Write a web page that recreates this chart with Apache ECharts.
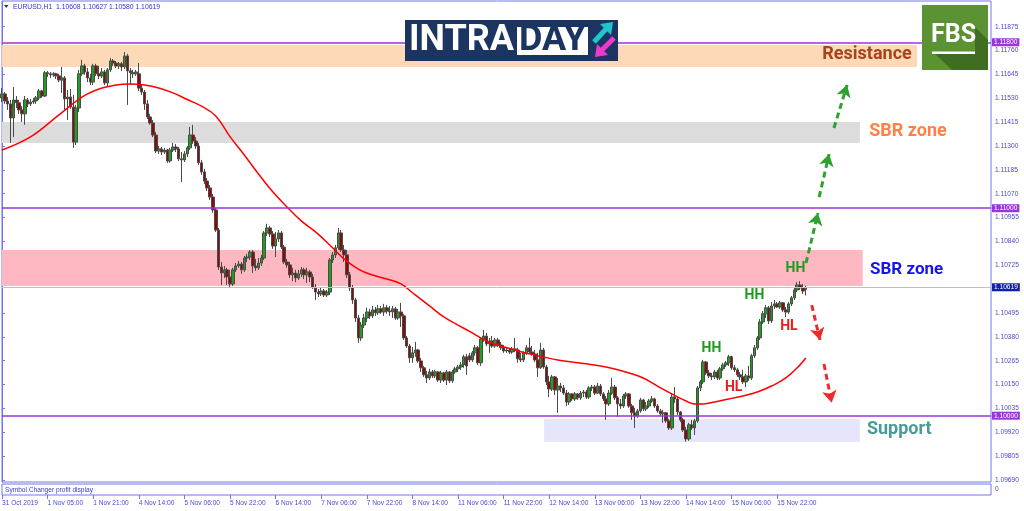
<!DOCTYPE html>
<html><head><meta charset="utf-8">
<script src="https://cdn.jsdelivr.net/npm/echarts@6/dist/echarts.min.js"></script>
<style>html,body{margin:0;padding:0;background:#fff}#c{width:1024px;height:511px}</style>
</head><body><div id="c"></div>
<script>
const symbolTitle = 'EURUSD,H1  1.10608 1.10627 1.10580 1.10619';
const subWindowTitle = 'Symbol Changer profit display';
const xTickLabels = ['31 Oct 2019','1 Nov 05:00','1 Nov 21:00','4 Nov 14:00','5 Nov 06:00','5 Nov 22:00','6 Nov 14:00','7 Nov 06:00','7 Nov 22:00','8 Nov 14:00','11 Nov 06:00','11 Nov 22:00','12 Nov 14:00','13 Nov 06:00','13 Nov 22:00','14 Nov 14:00','15 Nov 06:00','15 Nov 22:00'];
const yTickLabels = [1.09690,1.09805,1.09920,1.10035,1.10150,1.10265,1.10380,1.10495,1.10725,1.10840,1.10955,1.11070,1.11185,1.11300,1.11415,1.11530,1.11645,1.11760,1.11875];
// [open, close, low, high]
const candles = [
[1.11532,1.11551,1.11512,1.11579],[1.11551,1.11517,1.11503,1.11560],[1.11517,1.11503,1.11474,1.11536],[1.11503,1.11435,1.11315,1.11522],
[1.11435,1.11522,1.11343,1.11584],[1.11522,1.11508,1.11483,1.11541],[1.11508,1.11474,1.11455,1.11522],[1.11474,1.11455,1.11416,1.11493],
[1.11455,1.11522,1.11402,1.11541],[1.11522,1.11503,1.11488,1.11532],[1.11503,1.11512,1.11493,1.11527],[1.11512,1.11517,1.11503,1.11532],
[1.11517,1.11532,1.11503,1.11541],[1.11532,1.11565,1.11522,1.11575],[1.11565,1.11541,1.11532,1.11570],[1.11541,1.11653,1.11536,1.11662],
[1.11653,1.11648,1.11633,1.11662],[1.11648,1.11643,1.11628,1.11657],[1.11643,1.11648,1.11633,1.11657],[1.11648,1.11638,1.11623,1.11653],
[1.11638,1.11618,1.11608,1.11648],[1.11618,1.11628,1.11556,1.11681],[1.11628,1.11527,1.11474,1.11638],[1.11527,1.11536,1.11426,1.11570],
[1.11536,1.11488,1.11479,1.11575],[1.11488,1.11319,1.11291,1.11546],[1.11319,1.11483,1.11305,1.11498],[1.11483,1.11648,1.11464,1.11667],
[1.11648,1.11686,1.11638,1.11715],[1.11686,1.11657,1.11643,1.11696],[1.11657,1.11628,1.11608,1.11676],[1.11628,1.11608,1.11594,1.11648],
[1.11608,1.11686,1.11594,1.11696],[1.11686,1.11648,1.11638,1.11696],[1.11648,1.11638,1.11623,1.11686],[1.11638,1.11657,1.11628,1.11676],
[1.11657,1.11604,1.11594,1.11667],[1.11604,1.11667,1.11589,1.11676],[1.11667,1.11710,1.11657,1.11724],[1.11710,1.11700,1.11686,1.11720],
[1.11700,1.11686,1.11676,1.11710],[1.11686,1.11696,1.11671,1.11705],[1.11696,1.11681,1.11662,1.11705],[1.11681,1.11734,1.11671,1.11753],
[1.11734,1.11662,1.11498,1.11744],[1.11662,1.11653,1.11594,1.11676],[1.11653,1.11648,1.11628,1.11667],[1.11648,1.11657,1.11638,1.11667],
[1.11648,1.11579,1.11565,1.11700],[1.11579,1.11560,1.11546,1.11599],[1.11560,1.11503,1.11474,1.11570],[1.11503,1.11440,1.11430,1.11522],
[1.11440,1.11411,1.11402,1.11455],[1.11411,1.11353,1.11343,1.11426],[1.11353,1.11276,1.11267,1.11368],[1.11276,1.11286,1.11262,1.11300],
[1.11286,1.11271,1.11257,1.11295],[1.11271,1.11281,1.11262,1.11291],[1.11281,1.11228,1.11219,1.11286],[1.11228,1.11281,1.11219,1.11291],
[1.11281,1.11295,1.11271,1.11315],[1.11295,1.11286,1.11271,1.11310],[1.11286,1.11238,1.11228,1.11295],[1.11238,1.11233,1.11126,1.11271],
[1.11233,1.11262,1.11223,1.11276],[1.11262,1.11291,1.11247,1.11300],[1.11291,1.11353,1.11281,1.11392],[1.11353,1.11324,1.11310,1.11402],
[1.11324,1.11300,1.11286,1.11343],[1.11300,1.11219,1.11209,1.11315],[1.11219,1.11175,1.11161,1.11233],[1.11175,1.11131,1.11117,1.11190],
[1.11131,1.11098,1.11083,1.11146],[1.11098,1.11054,1.11040,1.11112],[1.11054,1.10992,1.10978,1.11069],[1.10992,1.10895,1.10886,1.11002],
[1.10895,1.10717,1.10703,1.10905],[1.10717,1.10688,1.10630,1.10741],[1.10688,1.10703,1.10664,1.10722],[1.10703,1.10669,1.10630,1.10713],
[1.10669,1.10635,1.10620,1.10703],[1.10635,1.10703,1.10625,1.10713],[1.10703,1.10722,1.10693,1.10736],[1.10722,1.10731,1.10713,1.10746],
[1.10731,1.10703,1.10684,1.10741],[1.10703,1.10760,1.10693,1.10770],[1.10760,1.10765,1.10741,1.10780],[1.10765,1.10789,1.10751,1.10799],
[1.10789,1.10722,1.10688,1.10799],[1.10722,1.10713,1.10698,1.10756],[1.10713,1.10736,1.10703,1.10760],[1.10736,1.10760,1.10722,1.10775],
[1.10760,1.10881,1.10751,1.10890],[1.10881,1.10905,1.10866,1.10925],[1.10905,1.10876,1.10861,1.10915],[1.10876,1.10818,1.10804,1.10890],
[1.10818,1.10852,1.10765,1.10886],[1.10852,1.10881,1.10837,1.10895],[1.10881,1.10813,1.10804,1.10890],[1.10813,1.10741,1.10731,1.10823],
[1.10741,1.10727,1.10713,1.10756],[1.10727,1.10679,1.10664,1.10741],[1.10679,1.10688,1.10649,1.10713],[1.10688,1.10664,1.10644,1.10703],
[1.10664,1.10684,1.10654,1.10703],[1.10684,1.10703,1.10669,1.10717],[1.10703,1.10679,1.10659,1.10713],[1.10679,1.10693,1.10640,1.10713],
[1.10693,1.10669,1.10644,1.10703],[1.10669,1.10620,1.10611,1.10684],[1.10620,1.10596,1.10558,1.10635],[1.10596,1.10587,1.10572,1.10611],
[1.10587,1.10601,1.10577,1.10616],[1.10601,1.10582,1.10572,1.10611],[1.10582,1.10596,1.10572,1.10606],[1.10596,1.10751,1.10582,1.10760],
[1.10751,1.10775,1.10736,1.10789],[1.10775,1.10809,1.10760,1.10823],[1.10809,1.10881,1.10799,1.10905],[1.10881,1.10799,1.10789,1.10895],
[1.10799,1.10775,1.10741,1.10823],[1.10775,1.10679,1.10664,1.10799],[1.10679,1.10616,1.10601,1.10693],[1.10616,1.10558,1.10539,1.10630],
[1.10558,1.10471,1.10452,1.10568],[1.10471,1.10375,1.10351,1.10486],[1.10375,1.10437,1.10360,1.10452],[1.10437,1.10471,1.10423,1.10491],
[1.10471,1.10500,1.10452,1.10520],[1.10500,1.10481,1.10466,1.10515],[1.10481,1.10510,1.10471,1.10529],[1.10510,1.10496,1.10481,1.10524],
[1.10496,1.10515,1.10486,1.10534],[1.10515,1.10500,1.10491,1.10529],[1.10500,1.10520,1.10481,1.10539],[1.10520,1.10505,1.10491,1.10534],
[1.10505,1.10500,1.10481,1.10529],[1.10500,1.10515,1.10471,1.10529],[1.10515,1.10471,1.10462,1.10524],[1.10471,1.10500,1.10462,1.10515],
[1.10500,1.10481,1.10428,1.10544],[1.10481,1.10375,1.10365,1.10491],[1.10375,1.10336,1.10327,1.10384],[1.10336,1.10279,1.10255,1.10346],
[1.10279,1.10303,1.10255,1.10331],[1.10303,1.10317,1.10284,1.10356],[1.10317,1.10264,1.10255,1.10322],[1.10264,1.10231,1.10211,1.10279],
[1.10231,1.10197,1.10187,1.10240],[1.10197,1.10182,1.10158,1.10216],[1.10182,1.10211,1.10172,1.10226],[1.10211,1.10192,1.10182,1.10221],
[1.10192,1.10211,1.10182,1.10221],[1.10211,1.10172,1.10163,1.10216],[1.10172,1.10206,1.10158,1.10216],[1.10206,1.10172,1.10163,1.10211],
[1.10172,1.10211,1.10148,1.10221],[1.10211,1.10168,1.10158,1.10216],[1.10168,1.10211,1.10158,1.10221],[1.10211,1.10226,1.10202,1.10235],
[1.10226,1.10235,1.10211,1.10245],[1.10235,1.10245,1.10221,1.10259],[1.10245,1.10284,1.10231,1.10293],[1.10284,1.10240,1.10197,1.10298],
[1.10289,1.10269,1.10259,1.10303],[1.10269,1.10303,1.10259,1.10312],[1.10303,1.10327,1.10289,1.10341],[1.10327,1.10255,1.10245,1.10336],
[1.10255,1.10370,1.10240,1.10379],[1.10370,1.10384,1.10356,1.10413],[1.10384,1.10346,1.10336,1.10399],[1.10346,1.10360,1.10303,1.10375],
[1.10360,1.10336,1.10327,1.10384],[1.10336,1.10365,1.10327,1.10375],[1.10365,1.10341,1.10331,1.10375],[1.10341,1.10327,1.10317,1.10356],
[1.10327,1.10312,1.10303,1.10341],[1.10312,1.10317,1.10303,1.10331],[1.10317,1.10307,1.10298,1.10327],[1.10307,1.10322,1.10298,1.10331],
[1.10322,1.10317,1.10307,1.10375],[1.10317,1.10274,1.10255,1.10327],[1.10274,1.10269,1.10259,1.10303],[1.10269,1.10303,1.10259,1.10312],
[1.10303,1.10327,1.10293,1.10341],[1.10327,1.10307,1.10298,1.10375],[1.10307,1.10298,1.10289,1.10336],[1.10298,1.10269,1.10259,1.10317],
[1.10269,1.10231,1.10187,1.10303],[1.10231,1.10317,1.10226,1.10351],[1.10317,1.10235,1.10226,1.10327],[1.10235,1.10163,1.10148,1.10245],
[1.10163,1.10129,1.10090,1.10192],[1.10129,1.10187,1.10119,1.10197],[1.10187,1.10124,1.10100,1.10192],[1.10124,1.10143,1.10014,1.10182],
[1.10143,1.10134,1.10114,1.10158],[1.10134,1.10109,1.10100,1.10148],[1.10109,1.10066,1.10047,1.10124],[1.10066,1.10105,1.10052,1.10114],
[1.10105,1.10081,1.10071,1.10109],[1.10081,1.10105,1.10071,1.10114],[1.10105,1.10086,1.10076,1.10109],[1.10086,1.10109,1.10076,1.10119],
[1.10109,1.10114,1.10090,1.10124],[1.10114,1.10090,1.10081,1.10124],[1.10090,1.10134,1.10081,1.10143],[1.10134,1.10138,1.10119,1.10148],
[1.10138,1.10109,1.10100,1.10148],[1.10109,1.10143,1.10105,1.10158],[1.10143,1.10105,1.10095,1.10153],[1.10105,1.10081,1.10071,1.10114],
[1.10081,1.10057,1.09980,1.10095],[1.10057,1.10109,1.10047,1.10124],[1.10109,1.10138,1.10100,1.10182],[1.10138,1.10086,1.10076,1.10148],
[1.10086,1.10057,1.09994,1.10095],[1.10057,1.10047,1.10033,1.10081],[1.10047,1.10095,1.10038,1.10105],[1.10095,1.10105,1.10081,1.10114],
[1.10105,1.10047,1.10038,1.10109],[1.10047,1.10014,1.09980,1.10057],[1.10014,1.09999,1.09941,1.10038],[1.09999,1.10023,1.09990,1.10033],
[1.10023,1.10076,1.10014,1.10086],[1.10076,1.10033,1.10023,1.10081],[1.10033,1.10047,1.10023,1.10066],[1.10047,1.10071,1.10038,1.10081],
[1.10071,1.10081,1.10062,1.10095],[1.10081,1.10047,1.10038,1.10086],[1.10047,1.10023,1.10014,1.10057],[1.10023,1.10009,1.09999,1.10033],
[1.10009,1.10014,1.09966,1.10028],[1.10014,1.09975,1.09966,1.10018],[1.09975,1.09941,1.09931,1.09985],[1.09941,1.10090,1.09931,1.10105],
[1.10090,1.10081,1.10062,1.10138],[1.10081,1.10018,1.10004,1.10090],[1.10018,1.09980,1.09970,1.10023],[1.09980,1.09931,1.09922,1.09990],
[1.09931,1.09888,1.09874,1.09946],[1.09888,1.09956,1.09879,1.09966],[1.09956,1.09941,1.09931,1.09980],[1.09941,1.09975,1.09907,1.09985],
[1.09975,1.10134,1.09966,1.10143],[1.10134,1.10163,1.10119,1.10172],[1.10163,1.10259,1.10153,1.10269],[1.10259,1.10206,1.10197,1.10264],
[1.10206,1.10192,1.10182,1.10221],[1.10192,1.10187,1.10172,1.10206],[1.10187,1.10211,1.10177,1.10221],[1.10211,1.10182,1.10172,1.10221],
[1.10182,1.10226,1.10172,1.10235],[1.10226,1.10245,1.10216,1.10255],[1.10245,1.10255,1.10235,1.10264],[1.10255,1.10284,1.10240,1.10293],
[1.10284,1.10231,1.10221,1.10289],[1.10231,1.10221,1.10211,1.10245],[1.10221,1.10197,1.10187,1.10231],[1.10197,1.10187,1.10172,1.10211],
[1.10187,1.10163,1.10153,1.10221],[1.10163,1.10192,1.10138,1.10202],[1.10192,1.10182,1.10168,1.10240],[1.10182,1.10289,1.10172,1.10298],
[1.10289,1.10327,1.10279,1.10341],[1.10327,1.10375,1.10317,1.10384],[1.10375,1.10452,1.10365,1.10466],[1.10452,1.10491,1.10442,1.10505],
[1.10491,1.10520,1.10471,1.10534],[1.10520,1.10457,1.10442,1.10529],[1.10457,1.10529,1.10447,1.10548],[1.10529,1.10539,1.10515,1.10558],
[1.10539,1.10524,1.10520,1.10548],[1.10524,1.10544,1.10515,1.10553],[1.10544,1.10510,1.10500,1.10548],[1.10510,1.10500,1.10476,1.10524],
[1.10500,1.10539,1.10491,1.10548],[1.10539,1.10568,1.10529,1.10577],[1.10568,1.10606,1.10558,1.10616],[1.10606,1.10630,1.10596,1.10644],
[1.10630,1.10616,1.10606,1.10649],[1.10616,1.10601,1.10587,1.10635],[1.10608,1.10619,1.10580,1.10627]
];
// moving average read at bar positions [barIndex, price]
const maPoints = [[0,1.11281],[10,1.11344],[20,1.11450],[30,1.11551],[40,1.11594],[45,1.11599],[50,1.11594],[55,1.11580],[60,1.11556],[65,1.11524],[70,1.11492],[75,1.11445],[80,1.11345],[85,1.11257],[90,1.11165],[95,1.11079],[100,1.11006],[105,1.10939],[110,1.10886],[115,1.10823],[120,1.10756],[125,1.10707],[130,1.10678],[135,1.10659],[140,1.10635],[145,1.10582],[150,1.10529],[155,1.10476],[160,1.10437],[165,1.10399],[170,1.10360],[175,1.10336],[180,1.10317],[185,1.10298],[190,1.10283],[195,1.10269],[200,1.10259],[205,1.10250],[210,1.10240],[215,1.10225],[220,1.10206],[225,1.10182],[230,1.10143],[235,1.10105],[240,1.10071],[243,1.10057],[246,1.10057],[250,1.10066],[255,1.10081],[260,1.10095],[265,1.10114],[270,1.10143],[275,1.10182],[280,1.10245],[282,1.10278]];
const levelPrices = [1.11800, 1.11000, 1.10000];
const bidPrice = 1.10619;
// zones: [fromBar, toBar, lowPrice, highPrice]
const zoneResistance = [0, 321, 1.11681, 1.11787];
const zoneSbrUpper = [0, 301, 1.11314, 1.11416];
const zoneSbrLower = [0, 302, 1.10625, 1.10799];
const zoneSupport = [190.2, 301, 1.09873, 1.09984];
// annotation anchors [bar, price]
const labelResistance = [303.5, 1.11743];
const labelSbrUpper = [317.9, 1.11372];
const labelSbrLower = [317.4, 1.10702];
const labelSupport = [314.8, 1.09934];
const labelsHH = [[278.4, 1.10709], [264.0, 1.10578], [248.9, 1.10326]];
const labelsHL = [[276.1, 1.10432], [256.7, 1.10138]];
const greenArrows = [[[282.1, 1.10736], [286.3, 1.10977]], [[286.7, 1.11054], [290.2, 1.11261]], [[291.9, 1.11387], [296.5, 1.11594]]];
const redArrows = [[[284.1, 1.10533], [287.0, 1.10365]], [[288.4, 1.10249], [291.1, 1.10063]]];

const categoryCount = 348;
const categories = Array.from({length: categoryCount}, (_, i) => String(i));
const frameColor = '#7474ee';
const axisText = '#4a4ad6';
const smallFont = '"Liberation Sans", Arial, sans-serif';
const labelFont = 'Roboto, "Noto Sans", sans-serif';

function zoneItem(z, color) {
  return [{coord: [z[0], z[3]], itemStyle: {color: color}}, {coord: [z[1], z[2]]}];
}
function levelItem(v, color, width, bg) {
  return {yAxis: v, lineStyle: {color: color, width: width, type: 'solid'},
    label: {show: true, position: 'end', distance: 1, formatter: v.toFixed(5), color: '#fff',
      backgroundColor: bg, padding: [1, 2, 0, 2], fontSize: 6.6, fontFamily: smallFont}};
}
function textPoint(pos, text, color, size) {
  return {coord: pos, symbol: 'circle', symbolSize: 1, itemStyle: {color: 'rgba(0,0,0,0)'},
    label: {show: true, position: 'inside', formatter: text, color: color, fontSize: size,
      fontWeight: 'bold', fontFamily: labelFont}};
}
const tickEvery = 16;
const showTick = (i) => i % tickEvery === 0 && i / tickEvery < xTickLabels.length;
const Z = 100;

const chart = echarts.init(document.getElementById('c'), null, {renderer: 'canvas'});
chart.setOption({
  animation: false,
  backgroundColor: '#ffffff',
  grid: [
    {left: 2, right: 33, top: 1, bottom: 29, show: true, borderColor: frameColor, borderWidth: 1, outerBoundsMode: 'none'},
    {left: 2, right: 33, top: 484, height: 11, show: true, borderColor: frameColor, borderWidth: 1, outerBoundsMode: 'none'}
  ],
  xAxis: [
    {type: 'category', gridIndex: 0, data: categories, boundaryGap: false, axisLine: {show: false}, axisTick: {show: false}, axisLabel: {show: false}, splitLine: {show: false}},
    {type: 'value', gridIndex: 0, min: 0, max: categoryCount - 1, show: false, splitLine: {show: false}},
    {type: 'category', gridIndex: 1, data: categories, boundaryGap: false, axisLine: {show: false},
      axisTick: {show: true, interval: showTick, length: 4, lineStyle: {color: frameColor}},
      axisLabel: {show: true, interval: showTick, formatter: (v, i) => xTickLabels[Math.round(i / tickEvery)] || '',
        align: 'left', margin: 5, color: axisText, fontSize: 6.6, fontFamily: smallFont}, splitLine: {show: false}}
  ],
  yAxis: [
    {type: 'value', gridIndex: 0, position: 'right', min: 1.096805, max: 1.119989, scale: true,
      axisLine: {show: true, lineStyle: {color: frameColor}},
      axisTick: {show: true, customValues: yTickLabels, length: 3, lineStyle: {color: frameColor}},
      axisLabel: {show: true, customValues: yTickLabels, formatter: (v) => v.toFixed(5), margin: 4,
        color: axisText, fontSize: 6.6, fontFamily: smallFont},
      splitLine: {show: false}},
    {type: 'value', gridIndex: 1, min: 0, max: 1, show: false, splitLine: {show: false}}
  ],
  series: [
    {type: 'line', name: 'zones', xAxisIndex: 1, yAxisIndex: 0, data: [], z: 1, silent: true,
      markArea: {silent: true, data: [
        zoneItem(zoneResistance, '#fdd9b8'),
        zoneItem(zoneSbrUpper, '#dcdcdc'),
        zoneItem(zoneSbrLower, '#ffb7c2'),
        zoneItem(zoneSupport, '#e6e6fa')
      ]}},
    {type: 'candlestick', name: 'EURUSD', xAxisIndex: 0, yAxisIndex: 0, data: candles, z: 2, barWidth: 3,
      itemStyle: {color: '#1f9e1f', color0: '#8b0a0a', borderColor: '#4a4a4a', borderColor0: '#4a4a4a', borderWidth: 1},
      markLine: {silent: true, symbol: ['none', 'none'], precision: 5, data: [
        levelItem(bidPrice, '#c0c0c0', 1, '#1220b0'),
        levelItem(levelPrices[0], '#9b35d6', 1.5, '#9b35d6'),
        levelItem(levelPrices[1], '#9b35d6', 1.5, '#9b35d6'),
        levelItem(levelPrices[2], '#9b35d6', 1.5, '#9b35d6')
      ]}},
    {type: 'line', name: 'MA', xAxisIndex: 1, yAxisIndex: 0, data: maPoints, smooth: 0.4, symbol: 'none', z: 3,
      lineStyle: {color: '#ff0000', width: 1.5}},
    {type: 'line', name: 'upArrows', xAxisIndex: 1, yAxisIndex: 0, data: [], z: 5, silent: true,
      markLine: {silent: true, symbol: ['none', 'arrow'], symbolSize: [11, 12], label: {show: false},
        lineStyle: {color: '#2ea22e', width: 3, type: [6, 4]},
        data: greenArrows.map(a => [{coord: a[0]}, {coord: a[1]}])}},
    {type: 'line', name: 'downArrows', xAxisIndex: 1, yAxisIndex: 0, data: [], z: 5, silent: true,
      markLine: {silent: true, symbol: ['none', 'arrow'], symbolSize: [11, 12], label: {show: false},
        lineStyle: {color: '#f02a2a', width: 3, type: [6, 4]},
        data: redArrows.map(a => [{coord: a[0]}, {coord: a[1]}])}},
    {type: 'line', name: 'labels', xAxisIndex: 1, yAxisIndex: 0, data: [], z: 6, silent: true,
      markPoint: {silent: true, data: [
        textPoint(labelResistance, 'Resistance', '#a6441c', 18),
        textPoint(labelSbrUpper, 'SBR zone', '#ff7f45', 18),
        textPoint(labelSbrLower, 'SBR zone', '#1414f0', 17),
        textPoint(labelSupport, 'Support', '#4b9a9a', 18),
        ...labelsHH.map(p => textPoint(p, 'HH', '#1f9a1f', 14)),
        ...labelsHL.map(p => textPoint(p, 'HL', '#ee1c1c', 14))
      ]}}
  ],
  graphic: [
    {type: 'polygon', z: Z, shape: {points: [[4, 5], [8.5, 5], [6.2, 8]]}, style: {fill: '#2a2aa8'}},
    {type: 'text', z: Z, x: 13, y: 7.5, style: {text: symbolTitle, fill: '#3535c8', fontSize: 6.8, fontFamily: smallFont, verticalAlign: 'middle'}},
    {type: 'text', z: Z, x: 5, y: 490, style: {text: subWindowTitle, fill: '#3c3cc8', fontSize: 6.6, fontFamily: smallFont, verticalAlign: 'middle'}},
    {type: 'text', z: Z, x: 995, y: 489, style: {text: '0', fill: axisText, fontSize: 6.6, fontFamily: smallFont, verticalAlign: 'middle'}},
    {type: 'rect', z: Z, shape: {x: 405, y: 20, width: 213, height: 41}, style: {fill: '#1b3461'}},
    {type: 'text', z: Z + 1, x: 409, y: 41, style: {text: 'INTRA', fill: '#ffffff', fontSize: 36, fontWeight: 'bold', fontFamily: labelFont, verticalAlign: 'middle'}},
    {type: 'rect', z: Z + 1, shape: {x: 517, y: 27, width: 71, height: 28}, style: {fill: '#ffffff'}},
    {type: 'text', z: Z + 2, x: 552.5, y: 41, style: {text: 'DAY', fill: '#1b3461', fontSize: 36, fontWeight: 'bold', fontFamily: labelFont, verticalAlign: 'middle', align: 'center'}},
    {type: 'line', z: Z + 1, shape: {x1: 594, y1: 42, x2: 606, y2: 29}, style: {stroke: '#1fc6cc', lineWidth: 5}},
    {type: 'polygon', z: Z + 1, shape: {points: [[613, 22], [600, 24], [611, 35]]}, style: {fill: '#1fc6cc'}},
    {type: 'line', z: Z + 1, shape: {x1: 614, y1: 38, x2: 602, y2: 50}, style: {stroke: '#ee3ac8', lineWidth: 5}},
    {type: 'polygon', z: Z + 1, shape: {points: [[595, 57], [597, 44], [608, 55]]}, style: {fill: '#ee3ac8'}},
    {type: 'rect', z: Z, shape: {x: 922, y: 5, width: 66, height: 65}, style: {fill: '#5a9234'}},
    {type: 'polygon', z: Z + 1, shape: {points: [[975, 27], [988, 40], [988, 70], [952, 70], [934, 53], [975, 53]]}, style: {fill: '#3f6e22'}},
    {type: 'text', z: Z + 2, x: 953.5, y: 36, style: {text: 'FBS', fill: '#ffffff', fontSize: 25, fontWeight: 'bold', fontFamily: labelFont, verticalAlign: 'middle', align: 'center'}},
    {type: 'rect', z: Z + 2, shape: {x: 932, y: 51.5, width: 43, height: 2.5}, style: {fill: '#ffffff'}}
  ]
});
</script>
</body></html>
